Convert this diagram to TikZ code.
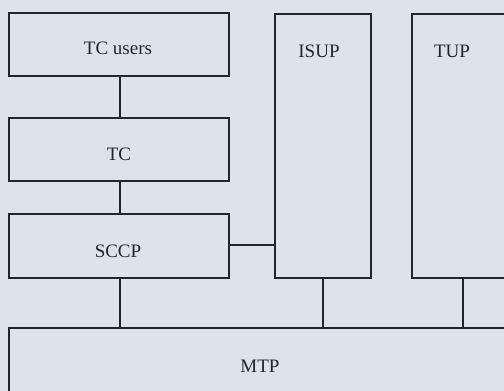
\documentclass[tikz,border=0pt]{standalone}
\usepackage{fontspec}
\setmainfont{Liberation Serif}
\definecolor{paper}{RGB}{221,227,236}
\definecolor{ink}{RGB}{34,38,44}
\begin{document}
\begin{tikzpicture}[x=1pt,y=-1pt,
  layer/.style={draw=ink,line width=1.7pt,rectangle,inner sep=0pt,anchor=north west},
  link/.style={draw=ink,line width=1.7pt},
  caption/.style={anchor=base,inner sep=0pt,text=ink,font=\fontsize{19}{21}\selectfont}]
  % sheet
  \fill[paper] (0,0) rectangle (504,391);
  \useasboundingbox (0,0) rectangle (504,391);
  \clip (0,0) rectangle (504,391);

  % protocol layers
  \node[layer,minimum width=220pt,minimum height=63pt] (tcu)  at (8,12)  {};
  \node[layer,minimum width=220pt,minimum height=63pt] (tc)   at (8,117) {};
  \node[layer,minimum width=220pt,minimum height=64pt] (sccp) at (8,213) {};
  \node[layer,minimum width=96pt,minimum height=264pt] (isup) at (274,13) {};
  \node[layer,minimum width=102pt,minimum height=264pt] (tup) at (411,13) {};
  \node[layer,minimum width=504pt,minimum height=90pt] (mtp)  at (8,327) {};

  % layer names
  \node[caption] (ltcu)  at (118,54)  {TC users};
  \node[caption] (ltc)   at (119,160) {TC};
  \node[caption] (lsccp) at (118,257) {SCCP};
  \node[caption] (lisup) at (319,57)  {ISUP};
  \node[caption] (ltup)  at (452,57)  {TUP};
  \node[caption] (lmtp)  at (260,372) {MTP};

  % interfaces between layers
  \draw[link] ([xshift=1pt]tcu.south) -- ([xshift=1pt]tc.north);
  \draw[link] ([xshift=1pt]tc.south) -- ([xshift=1pt]sccp.north);
  \draw[link] ([xshift=1pt]sccp.south) -- ([xshift=1pt]sccp.south |- mtp.north);
  \draw[link] ([yshift=1pt]sccp.east) -- ([yshift=1pt]sccp.east -| isup.west);
  \draw[link] (isup.south) -- (isup.south |- mtp.north);
  \draw[link] (tup.south) -- (tup.south |- mtp.north);
\end{tikzpicture}
\end{document}
